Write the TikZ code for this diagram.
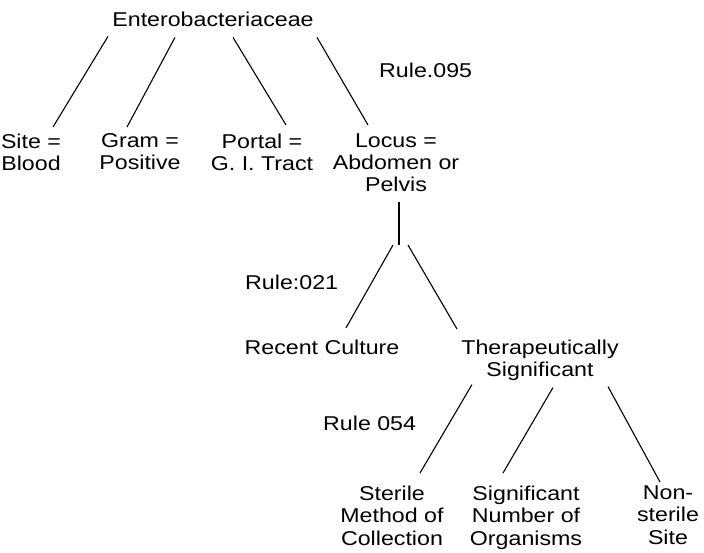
\documentclass[tikz,border=0pt]{standalone}
\usepackage{fontspec}
\setmainfont{Liberation Sans}[FakeStretch=1.16]
\usepackage{tikz}

\tikzset{
  lbl/.style={inner sep=0pt, align=center, font=\fontsize{20}{22}\selectfont},
  branch/.style={line width=1.1pt}
}

\begin{document}
\begin{tikzpicture}[x=1pt,y=-1pt]
\useasboundingbox (0,0) rectangle (704,552);

% top level
\node[lbl,anchor=base] (root) at (213,26) {Enterobacteriaceae};
\node[lbl,anchor=north] (site) at (31,133.5) {Site =\\Blood};
\node[lbl,anchor=north] (gram) at (140,133.5) {Gram =\\Positive};
\node[lbl,anchor=north] (portal) at (262,133.5) {Portal =\\G. I. Tract};
\node[lbl,anchor=north] (locus) at (396,133.5) {Locus =\\Abdomen or\\Pelvis};
\node[lbl,anchor=base west] (ruleA) at (379,77) {Rule.095};

\draw[branch] ([shift={(-105,10)}]root.south) -- ([shift={(22,-6.5)}]site.north);
\draw[branch] ([shift={(-38,11)}]root.south) -- ([shift={(-13,-6.5)}]gram.north);
\draw[branch] ([shift={(20,11)}]root.south) -- ([shift={(24,-8.5)}]portal.north);
\draw[branch] ([shift={(104,11)}]root.south) -- ([shift={(-28,-8.5)}]locus.north);

% second level
\coordinate (fork) at (399,245);
\node[lbl,anchor=base] (recent) at (322,354) {Recent Culture};
\node[lbl,anchor=north] (thera) at (540,339.5) {Therapeutically\\Significant};
\node[lbl,anchor=base west] (ruleB) at (245,289) {Rule:021};

\draw[branch] ([yshift=-10pt]fork |- locus.south) -- (fork);
\draw[branch] ([xshift=-6pt]fork) -- ([shift={(24,-11.4)}]recent.north);
\draw[branch] ([xshift=9pt]fork) -- ([shift={(-83,-10.5)}]thera.north);

% third level
\node[lbl,anchor=north,font=\fontsize{20}{22.5}\selectfont] (sterile) at (392,485.5) {Sterile\\Method of\\Collection};
\node[lbl,anchor=north,font=\fontsize{20}{22.5}\selectfont] (signif) at (526,485.5) {Significant\\Number of\\Organisms};
\node[lbl,anchor=north,font=\fontsize{20}{22.5}\selectfont] (nonst) at (668,485.5) {Non-\\sterile\\Site};
\node[lbl,anchor=base west] (ruleC) at (323,430) {Rule 054};

\draw[branch] ([shift={(-68,4)}]thera.south) -- ([shift={(28,-12.5)}]sterile.north);
\draw[branch] ([shift={(13,7)}]thera.south) -- ([shift={(-23,-12.5)}]signif.north);
\draw[branch] ([shift={(68,6)}]thera.south) -- ([shift={(-8,-3.5)}]nonst.north);

\end{tikzpicture}
\end{document}
